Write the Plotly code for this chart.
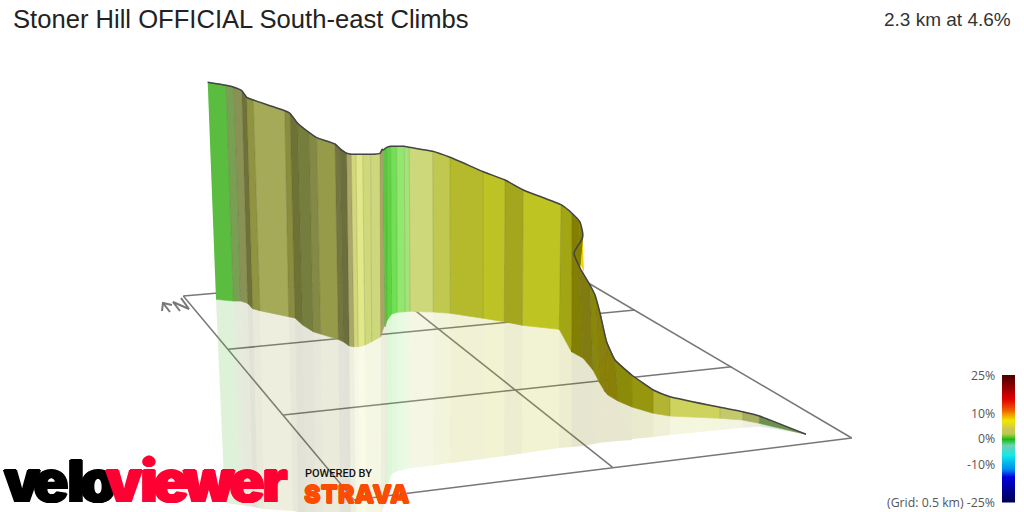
import plotly.graph_objects as go

# ---- profile wall (edge by edge, left to right)
top_x = [207.7,226,234,241.7,246.7,253.3,284.7,290,297.7,309.3,316.7,335,340,346.7,351.3,356,362.7,370.7,380,382.3,383.3,386.7,390.7,396.7,404.3,409.3,432.7,450,483.3,505,523.3,561,571.7,580,582.7,582.5,574,580,590,595,600,606.7,615,631.7,653.3,670,720,742.7,759.3,806]
top_y = [82.3,85.3,87.3,90.7,97.3,100,110.7,113.3,123.3,132.7,137.7,144,148.7,153.3,154.3,154.3,154.3,154.3,153.3,149.3,150,147.3,146.3,146.3,146.3,147.3,151.3,157.3,171.7,180,190,204.7,213,222,233,238,253,268,285,295,313,342,360,375,390,396.7,407.3,411.7,416,434.3]
base_x = [216,233.3,240.7,247.7,252.7,260,288.7,295,302.7,313.3,320.7,338.3,343.3,349.3,354,358.3,365,371.7,380.7,385,385,387.3,391.7,397.3,405,410,433.3,450.3,483.3,504.3,522.3,559.3,571.7,572,572,572,572,583,593,600,605,608,618,632,653.3,670,720,742.7,759.3,806]
base_y = [299.3,301,301,303.3,308.7,310.7,316.7,318,325,331.7,334,339.3,341.7,346,346.7,346.7,345,341.7,336.7,323,326.7,320,314,312.3,311.7,311.3,312,313.3,318.3,321.7,325.3,329.3,352,352,352,352,352,358,370,383.3,391.7,395,401,407,413.3,416,418.3,420,423.3,434.3]
shadow_x = [225,240,247,253,258,264,293,298,306,316,323,340,345,351,356,360,366,373,381,385,386,388,392,398,405,411,433,450,483,504,522,559,571.7,571.7,571.7,571.7,571.7,583,594,601,608,618,632,632,653,670,720,743,760,806]
shadow_y = [503,505,506,507,508,509,511,512,514,516,518,522,524,526,526,526,524,520,514,503,495,484,474,471,469.5,468,465.5,463,459,456,453.5,448,447,447,447,447,447,446,444,442.5,442,441,440,439,437,435,430,427.7,426.7,434.3]
band_colors = ["#5bbd3f","#789f52","#8a9155","#6f7238","#909440","#a4aa58","#8a8c3e","#6f7235","#767e3d","#848a45","#959b48","#74753f","#6b6f3c","#a9a868","#d3d77a","#e0e888","#cfd97c","#cdd77c","#a8a565","#7c9a50","#58c83c","#5ed443","#72e055","#92e86e","#a4e27a","#cdd87a","#c0c850","#b4ba2c","#bdc324","#a4a71e","#bec422","#a3a614","#837f00","#837f00","#837f00","#837f00","#837f04","#827c10","#89880a","#8a8206","#8a8008","#8a8008","#8b8b0a","#96960f","#b2b432","#cdd35c","#c4ca6c","#a8ae60","#6c9050"]
yellow_x = [582.6,584,574]
yellow_y = [236.7,272,252]

# ---- ground grid
grid_x0 = [183.3,183.3,228.3,283.3,354,851.7,380]
grid_y0 = [296,296,349.3,415,500,438,282.6]
grid_x1 = [556,354,635,731.7,851.7,556,612.7]
grid_y1 = [264,500,310,366.7,438,264,467.3]
north_x = [[170,163],[162,163,172],[180,173,189,181]]
north_y = [[312,303],[311,303,305],[311,302,309,298]]

# ---- text
title = "Stoner Hill OFFICIAL South-east Climbs"
summary = "2.3 km at 4.6%"
velo_letters = list("velo")
velo_x = [22,51,76,98]
viewer_letters = list("viewer")
viewer_x = [124,149,171,209,247,275]
scale_ticks = [-25,-10,0,10,25]
scale_labels = ["(Grid: 0.5 km) -25%","-10%","0%","10%","25%"]
scale_stops = [-25,-19,-14.8,-11.6,-6.3,-2.4,0,1.9,4.1,7.4,11.3,15.9,21,25]
scale_rgb = ["#000050","#0000a0","#0000e0","#0090f0","#10e8e8","#70d0b0","#10c010","#b8c850","#d0c850","#f0e800","#f06000","#e00000","#8a0000","#4a0000"]
scale_values = [-25,-22.5,-20,-17.5,-15,-12.5,-10,-7.5,-5,-2.5,0,2.5,5,7.5,10,12.5,15,17.5,20,22.5,25]

def rgba(hex_color, a):
    return "rgba(%d,%d,%d,%.2f)" % (int(hex_color[1:3],16), int(hex_color[3:5],16), int(hex_color[5:7],16), a)

fig = go.Figure()
def line(xs, ys, color="#777777", width=1.5, **kw):
    fig.add_trace(go.Scatter(x=xs, y=ys, mode="lines", line=dict(color=color, width=width, **kw),
                             hoverinfo="skip", showlegend=False))

for a,b,c,d in zip(grid_x0, grid_y0, grid_x1, grid_y1):
    line([a,c],[b,d])
for xs, ys in zip(north_x, north_y):
    line(xs, ys, width=2)

n = len(band_colors)
for i in range(n):
    fig.add_trace(go.Scatter(
        x=[base_x[i],base_x[i+1],shadow_x[i+1],shadow_x[i]],
        y=[base_y[i],base_y[i+1],shadow_y[i+1],shadow_y[i]],
        fill="toself", mode="lines", line=dict(width=0),
        fillcolor=rgba(band_colors[i],0.2), hoverinfo="skip", showlegend=False))

fig.add_trace(go.Scatter(x=yellow_x, y=yellow_y, fill="toself", mode="lines", line=dict(width=0),
                         fillcolor="#eed800", hoverinfo="skip", showlegend=False))
for i in range(n):
    fig.add_trace(go.Scatter(
        x=[top_x[i],top_x[i+1],base_x[i+1],base_x[i]],
        y=[top_y[i],top_y[i+1],base_y[i+1],base_y[i]],
        fill="toself", mode="lines", line=dict(width=0.7, color=rgba(band_colors[i],1)),
        fillcolor=band_colors[i], hoverinfo="skip", showlegend=False))
for i in range(1,n):
    if base_x[i] != base_x[i-1] and base_x[i] != base_x[i+1]:
        line([top_x[i],base_x[i]],[top_y[i],base_y[i]], color="rgba(70,70,30,0.16)", width=1)
line(top_x, top_y, color="#444444", width=1.5, shape="spline", smoothing=0.4)

# logo word mark
def halo(c, a=1.2, b=0.8):
    return "%spx 0 0 %s, -%spx 0 0 %s, 0 %spx 0 %s, 0 -%spx 0 %s" % (a,c,a,c,b,c,b,c)
for xs, letters, col in ((velo_x, velo_letters, "#000000"), (viewer_x, viewer_letters, "#ff0033")):
    fig.add_trace(go.Scatter(x=xs, y=[487]*len(xs), text=letters, mode="text",
        textposition="middle center",
        textfont=dict(family="Inter", size=58, weight=900, color=col, shadow=halo(col)),
        hoverinfo="skip", showlegend=False))

fig.add_trace(go.Heatmap(x=[0,1], y=scale_values, z=[[v,v] for v in scale_values], xaxis="x2", yaxis="y2",
    zmin=-25, zmax=25, showscale=False, hoverinfo="skip", zsmooth="best",
    colorscale=[[(s+25)/50,c] for s,c in zip(scale_stops,scale_rgb)]))

def note(text, x, y, size, color, xanchor="left", family="Open Sans", yref="y", xref="x", **kw):
    fig.add_annotation(text=text, x=x, y=y, xref=xref, yref=yref, showarrow=False, xanchor=xanchor,
                       yanchor="middle", font=dict(family=family, size=size, color=color, **kw))
note(title, 11, 19, 25.6, "#222222", family="Liberation Sans")
note(summary, 1013, 19, 19, "#333333", xanchor="right", family="Liberation Sans")
note("POWERED BY", 303, 473, 11, "#111111", family="Roboto", weight=500)
note("STRAVA", 302, 494, 25, "#fc4c02", family="Inter", weight=900, shadow=halo("#fc4c02",0.4,0.7))
for tick, label in zip(scale_ticks, scale_labels):
    note(label, 997, tick, 12.3, "#555555", xanchor="right", yref="y2")

fig.update_layout(width=1024, height=512, margin=dict(l=0,r=0,t=0,b=0), paper_bgcolor="white", plot_bgcolor="rgba(0,0,0,0)",
    showlegend=False,
    xaxis=dict(range=[0,1024], visible=False, domain=[0,1], fixedrange=True),
    yaxis=dict(range=[512,0], visible=False, domain=[0,1], fixedrange=True),
    xaxis2=dict(domain=[1002/1024,1015/1024], anchor="y2", visible=False, range=[0,1]),
    yaxis2=dict(domain=[(512-502.5)/512,(512-375)/512], anchor="x2", range=[-25,25], visible=False))
fig.write_html("out.html", config=dict(displayModeBar=False), post_script="document.body.style.margin='0';document.body.style.overflow='hidden';")
